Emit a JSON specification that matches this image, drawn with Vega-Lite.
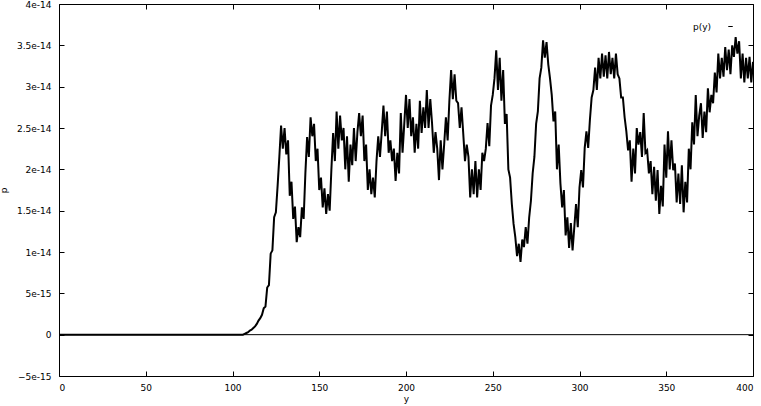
{
  "$schema": "https://vega.github.io/schema/vega-lite/v6.json",
  "width": 694,
  "height": 372,
  "autosize": {"type": "none"},
  "padding": {"left": 59, "top": 4, "right": 8, "bottom": 30},
  "background": "white",
  "config": {
    "view": {"stroke": null},
    "font": "DejaVu Sans",
    "axis": {"grid": false, "domainColor": "black", "tickColor": "black", "labelColor": "black", "titleColor": "black", "labelFont": "DejaVu Sans", "titleFont": "DejaVu Sans", "labelFontSize": 9, "titleFontSize": 9, "titleFontWeight": "normal", "tickSize": -5, "domainWidth": 1, "tickWidth": 1}
  },
  "data": {"values": [
    {"y":0,"p":0},{"y":106,"p":0},{"y":107,"p":0.1e-15},{"y":108,"p":0.2e-15},{"y":109,"p":0.3e-15},{"y":110,"p":0.5e-15},{"y":111,"p":0.6e-15},{"y":112,"p":0.8e-15},{"y":113,"p":1.0e-15},{"y":114,"p":1.3e-15},{"y":115,"p":1.7e-15},{"y":116,"p":2.0e-15},{"y":117,"p":2.4e-15},{"y":118,"p":3.2e-15},{"y":119,"p":3.4e-15},{"y":120,"p":5.7e-15},{"y":121,"p":6.0e-15},{"y":122,"p":9.8e-15},{"y":123,"p":10.2e-15},{"y":124,"p":14.2e-15},{"y":125,"p":14.8e-15},{"y":126,"p":18e-15},{"y":127,"p":21.5e-15},
    {"y":128,"p":25.3e-15},{"y":129,"p":22.5e-15},{"y":130,"p":25.0e-15},{"y":131,"p":21.8e-15},{"y":132,"p":23.5e-15},{"y":133,"p":16.8e-15},{"y":134,"p":18.5e-15},{"y":135,"p":14.0e-15},{"y":136,"p":15.5e-15},{"y":137,"p":11.2e-15},{"y":138,"p":13.0e-15},{"y":139,"p":11.8e-15},{"y":140,"p":15.4e-15},{"y":141,"p":14.0e-15},{"y":142,"p":19.5e-15},{"y":143,"p":23.9e-15},{"y":144,"p":21.5e-15},{"y":145,"p":26.3e-15},{"y":146,"p":24.0e-15},{"y":147,"p":25.5e-15},{"y":148,"p":21.0e-15},{"y":149,"p":22.5e-15},
    {"y":150,"p":17.5e-15},{"y":151,"p":19.0e-15},{"y":152,"p":15.4e-15},{"y":153,"p":17.7e-15},{"y":154,"p":14.6e-15},{"y":155,"p":17.0e-15},{"y":156,"p":15.0e-15},{"y":157,"p":20.0e-15},{"y":158,"p":24.4e-15},{"y":159,"p":21.0e-15},{"y":160,"p":27.0e-15},{"y":161,"p":22.5e-15},{"y":162,"p":26.5e-15},{"y":163,"p":23.5e-15},{"y":164,"p":25.0e-15},{"y":165,"p":20.0e-15},{"y":166,"p":24.0e-15},{"y":167,"p":18.5e-15},{"y":168,"p":23.0e-15},{"y":169,"p":20.5e-15},
    {"y":170,"p":25.0e-15},{"y":171,"p":21.0e-15},{"y":172,"p":24.5e-15},{"y":173,"p":26.8e-15},{"y":174,"p":24.0e-15},{"y":175,"p":26.5e-15},{"y":176,"p":21.0e-15},{"y":177,"p":23.0e-15},{"y":178,"p":17.5e-15},{"y":179,"p":20.0e-15},{"y":180,"p":17.0e-15},{"y":181,"p":19.0e-15},{"y":182,"p":16.6e-15},{"y":183,"p":21.0e-15},{"y":184,"p":24.0e-15},{"y":185,"p":21.5e-15},{"y":186,"p":24.5e-15},{"y":187,"p":27.7e-15},{"y":188,"p":24.0e-15},{"y":189,"p":27.0e-15},
    {"y":190,"p":22.0e-15},{"y":191,"p":23.5e-15},{"y":192,"p":21.0e-15},{"y":193,"p":22.5e-15},{"y":194,"p":18.6e-15},{"y":195,"p":22.0e-15},{"y":196,"p":19.5e-15},{"y":197,"p":26.8e-15},{"y":198,"p":22.0e-15},{"y":199,"p":25.5e-15},{"y":200,"p":29.0e-15},{"y":201,"p":25.0e-15},{"y":202,"p":28.5e-15},{"y":203,"p":24.0e-15},{"y":204,"p":26.3e-15},{"y":205,"p":22.0e-15},{"y":206,"p":25.5e-15},{"y":207,"p":22.5e-15},{"y":208,"p":28.3e-15},{"y":209,"p":24.4e-15},
    {"y":210,"p":27.5e-15},{"y":211,"p":25.0e-15},{"y":212,"p":29.6e-15},{"y":213,"p":25.0e-15},{"y":214,"p":28.5e-15},{"y":215,"p":25.6e-15},{"y":216,"p":22.0e-15},{"y":217,"p":24.5e-15},{"y":218,"p":22.5e-15},{"y":219,"p":18.7e-15},{"y":220,"p":23.5e-15},{"y":221,"p":20.0e-15},{"y":222,"p":23.0e-15},{"y":223,"p":26.3e-15},{"y":224,"p":23.5e-15},{"y":225,"p":28.3e-15},{"y":226,"p":32.0e-15},{"y":227,"p":28.5e-15},{"y":228,"p":31.5e-15},{"y":229,"p":28.3e-15},
    {"y":230,"p":28.0e-15},{"y":231,"p":25.0e-15},{"y":232,"p":27.5e-15},{"y":233,"p":24.3e-15},{"y":234,"p":21.0e-15},{"y":235,"p":23.0e-15},{"y":236,"p":21.5e-15},{"y":237,"p":16.6e-15},{"y":238,"p":20.0e-15},{"y":239,"p":17.0e-15},{"y":240,"p":21.0e-15},{"y":241,"p":16.6e-15},{"y":242,"p":20.0e-15},{"y":243,"p":17.5e-15},{"y":244,"p":22.0e-15},{"y":245,"p":21.0e-15},{"y":246,"p":22.5e-15},{"y":247,"p":25.6e-15},{"y":248,"p":22.8e-15},{"y":249,"p":27.7e-15},
    {"y":250,"p":29.0e-15},{"y":251,"p":31.0e-15},{"y":252,"p":34.4e-15},{"y":253,"p":29.6e-15},{"y":254,"p":33.5e-15},{"y":255,"p":28.3e-15},{"y":256,"p":32.0e-15},{"y":257,"p":25.5e-15},{"y":258,"p":26.7e-15},{"y":259,"p":20.0e-15},{"y":260,"p":19.0e-15},{"y":261,"p":15.8e-15},{"y":262,"p":13.4e-15},{"y":263,"p":11.8e-15},{"y":264,"p":9.5e-15},{"y":265,"p":11.0e-15},{"y":266,"p":8.8e-15},{"y":267,"p":11.5e-15},{"y":268,"p":10.6e-15},{"y":269,"p":13.0e-15},
    {"y":270,"p":11.0e-15},{"y":271,"p":14.2e-15},{"y":272,"p":16.2e-15},{"y":273,"p":19.5e-15},{"y":274,"p":21.5e-15},{"y":275,"p":25.5e-15},{"y":276,"p":27.0e-15},{"y":277,"p":31.0e-15},{"y":278,"p":32.3e-15},{"y":279,"p":35.6e-15},{"y":280,"p":33.5e-15},{"y":281,"p":35.4e-15},{"y":282,"p":32.7e-15},{"y":283,"p":31.0e-15},{"y":284,"p":29.0e-15},{"y":285,"p":25.8e-15},{"y":286,"p":27.0e-15},{"y":287,"p":20.0e-15},{"y":288,"p":23.0e-15},{"y":289,"p":18.3e-15},
    {"y":290,"p":15.4e-15},{"y":291,"p":17.5e-15},{"y":292,"p":12.0e-15},{"y":293,"p":14.2e-15},{"y":294,"p":10.5e-15},{"y":295,"p":13.5e-15},{"y":296,"p":10.2e-15},{"y":297,"p":13.0e-15},{"y":298,"p":15.8e-15},{"y":299,"p":13.0e-15},{"y":300,"p":17.8e-15},{"y":301,"p":19.9e-15},{"y":302,"p":17.8e-15},{"y":303,"p":22.6e-15},{"y":304,"p":24.6e-15},{"y":305,"p":22.6e-15},{"y":306,"p":26.0e-15},{"y":307,"p":28.7e-15},{"y":308,"p":29.6e-15},{"y":309,"p":32.3e-15},
    {"y":310,"p":29.6e-15},{"y":311,"p":33.5e-15},{"y":312,"p":31.0e-15},{"y":313,"p":34.0e-15},{"y":314,"p":31.2e-15},{"y":315,"p":33.8e-15},{"y":316,"p":31.0e-15},{"y":317,"p":34.2e-15},{"y":318,"p":31.5e-15},{"y":319,"p":33.5e-15},{"y":320,"p":31.0e-15},{"y":321,"p":34.0e-15},{"y":322,"p":31.5e-15},{"y":323,"p":31.0e-15},{"y":324,"p":28.7e-15},{"y":325,"p":28.7e-15},{"y":326,"p":26.3e-15},{"y":327,"p":24.6e-15},{"y":328,"p":22.3e-15},{"y":329,"p":23.5e-15},
    {"y":330,"p":18.5e-15},{"y":331,"p":22.5e-15},{"y":332,"p":19.5e-15},{"y":333,"p":25.0e-15},{"y":334,"p":23.0e-15},{"y":335,"p":24.5e-15},{"y":336,"p":21.5e-15},{"y":337,"p":26.8e-15},{"y":338,"p":22.0e-15},{"y":339,"p":22.3e-15},{"y":340,"p":19.5e-15},{"y":341,"p":21.0e-15},{"y":342,"p":17.0e-15},{"y":343,"p":20.3e-15},{"y":344,"p":16.2e-15},{"y":345,"p":19.9e-15},{"y":346,"p":14.6e-15},{"y":347,"p":18.0e-15},{"y":348,"p":15.5e-15},{"y":349,"p":23.0e-15},
    {"y":350,"p":19.0e-15},{"y":351,"p":24.6e-15},{"y":352,"p":20.0e-15},{"y":353,"p":23.5e-15},{"y":354,"p":19.9e-15},{"y":355,"p":20.7e-15},{"y":356,"p":16.0e-15},{"y":357,"p":19.5e-15},{"y":358,"p":15.8e-15},{"y":359,"p":20.5e-15},{"y":360,"p":14.8e-15},{"y":361,"p":18.5e-15},{"y":362,"p":16.0e-15},{"y":363,"p":22.5e-15},{"y":364,"p":20.0e-15},{"y":365,"p":25.7e-15},{"y":366,"p":23.0e-15},{"y":367,"p":29.0e-15},{"y":368,"p":24.0e-15},{"y":369,"p":26.5e-15},
    {"y":370,"p":28.0e-15},{"y":371,"p":23.8e-15},{"y":372,"p":27.0e-15},{"y":373,"p":24.5e-15},{"y":374,"p":29.8e-15},{"y":375,"p":26.9e-15},{"y":376,"p":29.0e-15},{"y":377,"p":28.0e-15},{"y":378,"p":31.7e-15},{"y":379,"p":29.3e-15},{"y":380,"p":34.0e-15},{"y":381,"p":31.0e-15},{"y":382,"p":33.5e-15},{"y":383,"p":31.2e-15},{"y":384,"p":34.8e-15},{"y":385,"p":32.0e-15},{"y":386,"p":34.5e-15},{"y":387,"p":31.5e-15},{"y":388,"p":35.0e-15},{"y":389,"p":33.6e-15},
    {"y":390,"p":36.0e-15},{"y":391,"p":34.0e-15},{"y":392,"p":35.5e-15},{"y":393,"p":31.0e-15},{"y":394,"p":34.0e-15},{"y":395,"p":30.5e-15},{"y":396,"p":33.5e-15},{"y":397,"p":31.0e-15},{"y":398,"p":33.6e-15},{"y":399,"p":30.5e-15},{"y":400,"p":33.0e-15}
  ]},
  "layer": [
    {
      "data": {"values": [{"z": 0}]},
      "mark": {"type": "rule", "color": "black", "strokeWidth": 1},
      "encoding": {"y": {"datum": 0, "type": "quantitative", "axis": null}}
    },
    {
      "mark": {"type": "line", "strokeWidth": 2, "interpolate": "linear"},
      "encoding": {
        "x": {"field": "y", "type": "quantitative", "scale": {"domain": [0, 400], "nice": false, "zero": false},
              "axis": {"orient": "bottom", "title": "y", "values": [0,50,100,150,200,250,300,350,400], "labelPadding": 12, "titlePadding": 2}},
        "y": {"field": "p", "type": "quantitative", "scale": {"domain": [-5e-15, 4e-14], "nice": false, "zero": false},
              "axis": {"orient": "left", "title": "p", "values": [-5e-15,0,5e-15,1e-14,1.5e-14,2e-14,2.5e-14,3e-14,3.5e-14,4e-14], "labelExpr": "datum.value == 0 ? '0' : format(datum.value, '~e')", "labelPadding": 13, "titlePadding": 8}},
        "color": {"datum": "p(y)", "type": "nominal", "scale": {"range": ["black"]},
                  "legend": {"title": null, "orient": "top-right", "offset": 18, "padding": 0, "symbolType": "stroke", "symbolSize": 20, "symbolStrokeWidth": 1, "labelAlign": "right", "labelOffset": -24, "labelFontSize": 9, "labelFont": "DejaVu Sans", "labelColor": "black"}}
      }
    },
    {
      "mark": {"type": "line", "strokeOpacity": 0},
      "encoding": {
        "x": {"field": "y", "type": "quantitative", "axis": {"orient": "top", "labels": false, "title": null, "values": [0,50,100,150,200,250,300,350,400]}},
        "y": {"field": "p", "type": "quantitative", "axis": {"orient": "right", "labels": false, "title": null, "values": [-5e-15,0,5e-15,1e-14,1.5e-14,2e-14,2.5e-14,3e-14,3.5e-14,4e-14]}}
      }
    }
  ],
  "resolve": {"axis": {"x": "independent", "y": "independent"}}
}
